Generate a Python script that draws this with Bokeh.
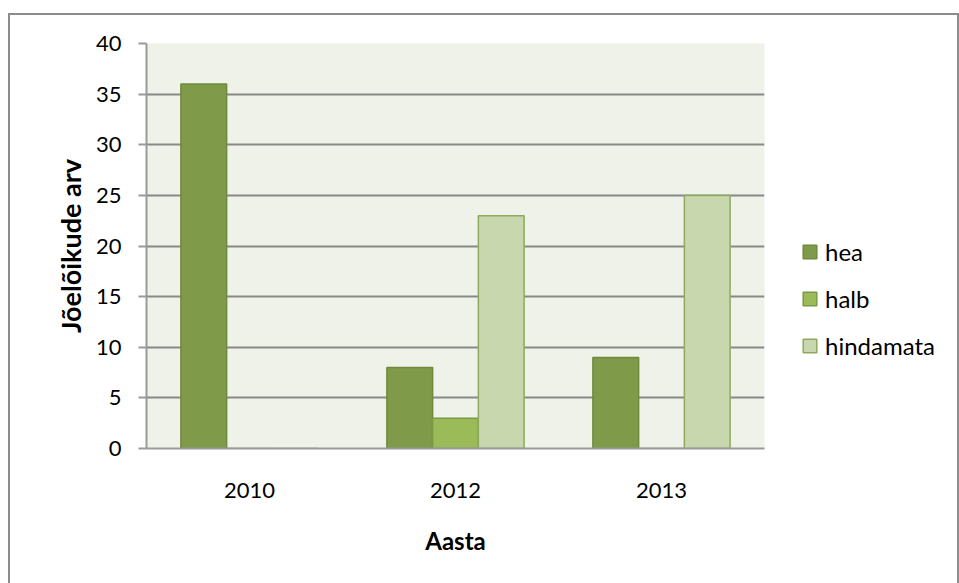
from bokeh.plotting import figure
from bokeh.models import FactorRange, ColumnDataSource, Legend, LegendItem, SingleIntervalTicker
from bokeh.layouts import row
from bokeh.transform import dodge
from bokeh.embed import file_html
from bokeh.resources import INLINE

years = ["2010", "2012", "2013"]
hea = [36, 8, 9]
halb = [0, 3, 0]
hindamata = [0, 23, 25]
series_names = ["hea", "halb", "hindamata"]
fill_colors = ["#7F9A48", "#9BBB59", "#C9D7AE"]
line_colors = ["#6F8A3C", "#7A9A45", "#8FAA5E"]

FONT = "Lato"
BORDER = "2px solid #8C8C8C"
src = ColumnDataSource(dict(x=years, hea=hea, halb=halb, hindamata=hindamata))

# main chart
p = figure(x_range=FactorRange(*years), y_range=(0, 40), width=772, height=568,
           output_backend="svg", toolbar_location=None,
           min_border_left=136, min_border_right=20, min_border_top=28, min_border_bottom=137)
p.background_fill_color = "#EFF2E9"
p.border_fill_color = "white"
p.outline_line_color = None
p.margin = (13, 0, 0, 8)
p.styles = {"border-left": BORDER, "border-top": BORDER, "box-sizing": "content-box"}

bw = 0.222
for i, (name, fc, lc) in enumerate(zip(series_names, fill_colors, line_colors)):
    p.vbar(x=dodge("x", (i - 1) * bw, range=p.x_range), top=name, width=bw, source=src,
           fill_color=fc, line_color=lc, line_width=1.5)

p.yaxis.ticker = SingleIntervalTicker(interval=5)
p.ygrid.grid_line_color = "#888888"
p.ygrid.grid_line_width = 2
p.xgrid.grid_line_color = None

for ax in (p.xaxis[0], p.yaxis[0]):
    ax.axis_line_color = "#9A9A9A"
    ax.axis_line_width = 2
    ax.major_label_text_font = FONT
    ax.major_label_text_font_size = "22px"
    ax.major_label_text_color = "black"
    ax.axis_label_text_font = FONT
    ax.axis_label_text_font_style = "bold"
    ax.axis_label_text_color = "black"
    ax.minor_tick_line_color = None

p.yaxis.major_tick_line_color = "#9A9A9A"
p.yaxis.major_tick_line_width = 2
p.yaxis.major_tick_out = 8
p.yaxis.major_tick_in = 0
p.yaxis.major_label_standoff = 17
p.yaxis.axis_label = "Jõelõikude arv"
p.yaxis.axis_label_text_font_size = "27px"
p.yaxis.axis_label_standoff = 6

p.xaxis.major_tick_line_color = None
p.xaxis.major_tick_out = 0
p.xaxis.major_label_standoff = 34
p.xaxis.axis_label = "Aasta"
p.xaxis.axis_label_text_font_size = "24px"
p.xaxis.axis_label_standoff = 25

# legend panel (a figure whose frame fills it)
q = figure(x_range=FactorRange(*years), y_range=(0, 40), width=175, height=568,
           output_backend="svg", toolbar_location=None, x_axis_type=None, y_axis_type=None,
           min_border=0, min_border_left=0, min_border_right=0, min_border_top=0, min_border_bottom=0)
q.background_fill_color = "white"
q.border_fill_color = "white"
q.outline_line_color = None
q.grid.visible = False
q.margin = (13, 0, 0, 0)
q.styles = {"border-top": BORDER, "border-right": BORDER, "box-sizing": "content-box"}

leg_renderers = []
for i, (name, fc, lc) in enumerate(zip(series_names, fill_colors, line_colors)):
    r = q.vbar(x=dodge("x", (i - 1) * bw, range=q.x_range), top=name, width=bw, source=src,
               fill_color=fc, line_color=lc, line_width=1.5, visible=False)
    leg_renderers.append(r)

legend = Legend(items=[LegendItem(label=n, renderers=[r]) for n, r in zip(series_names, leg_renderers)],
                location=(19, 88), orientation="vertical",
                label_text_font=FONT, label_text_font_size="24px", label_text_color="black",
                glyph_width=17, glyph_height=17, label_standoff=7, spacing=18, label_height=29,
                padding=0, margin=0, border_line_color=None, background_fill_alpha=0,
                inactive_fill_alpha=0)
q.add_layout(legend, "center")

layout = row(p, q)
open("out.html", "w").write(file_html(layout, INLINE))
